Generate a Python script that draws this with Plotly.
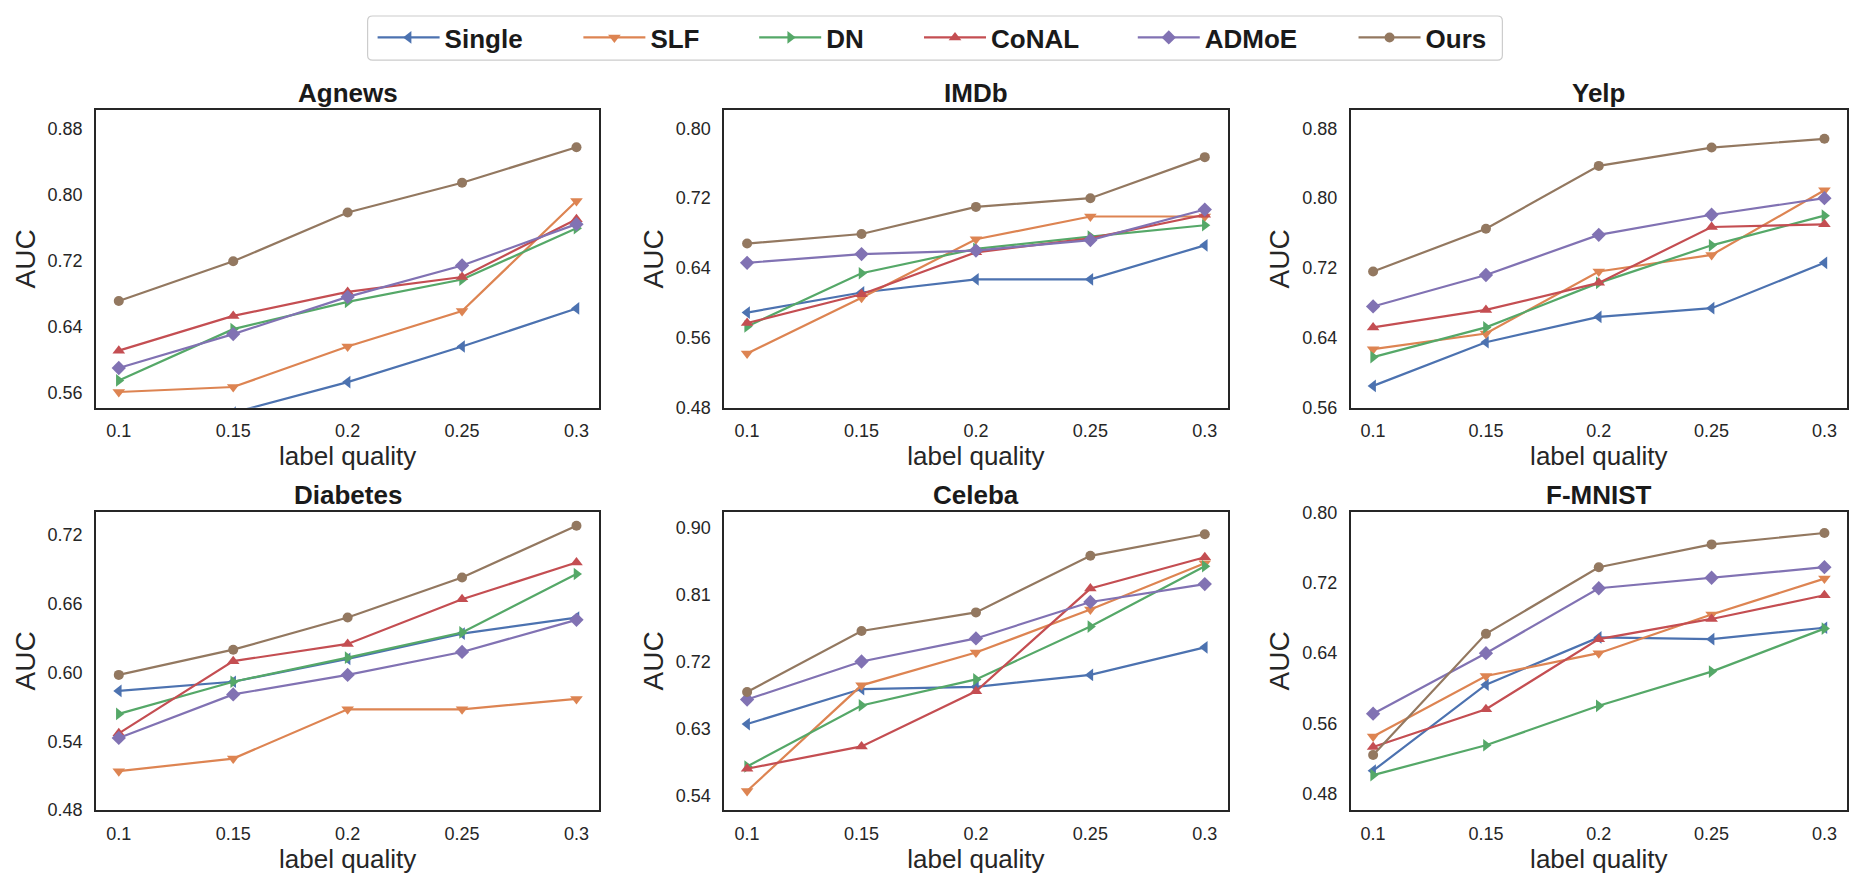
import plotly.graph_objects as go

# ---------------- data ----------------
x_vals = [0.1, 0.15, 0.2, 0.25, 0.3]
x_ticktext = ["0.1", "0.15", "0.2", "0.25", "0.3"]
methods = ["Single", "SLF", "DN", "CoNAL", "ADMoE", "Ours"]
datasets = ["Agnews", "IMDb", "Yelp", "Diabetes", "Celeba", "F-MNIST"]

agnews = {
    "Single": [0.500, 0.536, 0.573, 0.616, 0.662],
    "SLF":    [0.561, 0.567, 0.616, 0.659, 0.792],
    "DN":     [0.575, 0.637, 0.670, 0.697, 0.759],
    "CoNAL":  [0.611, 0.653, 0.682, 0.700, 0.770],
    "ADMoE":  [0.590, 0.631, 0.676, 0.714, 0.764],
    "Ours":   [0.671, 0.719, 0.778, 0.814, 0.857],
}
imdb = {
    "Single": [0.589, 0.612, 0.627, 0.627, 0.666],
    "SLF":    [0.542, 0.606, 0.673, 0.699, 0.699],
    "DN":     [0.573, 0.634, 0.662, 0.676, 0.689],
    "CoNAL":  [0.577, 0.610, 0.658, 0.674, 0.701],
    "ADMoE":  [0.646, 0.656, 0.660, 0.672, 0.707],
    "Ours":   [0.668, 0.679, 0.710, 0.720, 0.767],
}
yelp = {
    "Single": [0.585, 0.635, 0.664, 0.674, 0.726],
    "SLF":    [0.627, 0.645, 0.716, 0.735, 0.809],
    "DN":     [0.618, 0.652, 0.703, 0.746, 0.780],
    "CoNAL":  [0.652, 0.672, 0.703, 0.767, 0.770],
    "ADMoE":  [0.676, 0.712, 0.758, 0.781, 0.800],
    "Ours":   [0.716, 0.765, 0.837, 0.858, 0.868],
}
diabetes = {
    "Single": [0.584, 0.592, 0.612, 0.634, 0.648],
    "SLF":    [0.514, 0.525, 0.568, 0.568, 0.577],
    "DN":     [0.564, 0.592, 0.613, 0.635, 0.686],
    "CoNAL":  [0.547, 0.610, 0.625, 0.664, 0.696],
    "ADMoE":  [0.543, 0.581, 0.598, 0.618, 0.646],
    "Ours":   [0.598, 0.620, 0.648, 0.683, 0.728],
}
celeba = {
    "Single": [0.636, 0.683, 0.686, 0.702, 0.739],
    "SLF":    [0.546, 0.688, 0.732, 0.790, 0.852],
    "DN":     [0.579, 0.661, 0.696, 0.767, 0.848],
    "CoNAL":  [0.576, 0.606, 0.680, 0.818, 0.860],
    "ADMoE":  [0.669, 0.720, 0.751, 0.800, 0.824],
    "Ours":   [0.679, 0.761, 0.786, 0.862, 0.891],
}
fmnist = {
    "Single": [0.506, 0.604, 0.658, 0.656, 0.669],
    "SLF":    [0.545, 0.614, 0.640, 0.684, 0.725],
    "DN":     [0.501, 0.535, 0.580, 0.619, 0.668],
    "CoNAL":  [0.533, 0.576, 0.656, 0.679, 0.706],
    "ADMoE":  [0.571, 0.640, 0.714, 0.726, 0.738],
    "Ours":   [0.524, 0.662, 0.738, 0.764, 0.777],
}

yticks_agnews = [0.56, 0.64, 0.72, 0.80, 0.88]
yticks_imdb = [0.48, 0.56, 0.64, 0.72, 0.80]
yticks_yelp = [0.56, 0.64, 0.72, 0.80, 0.88]
yticks_diabetes = [0.48, 0.54, 0.60, 0.66, 0.72]
yticks_celeba = [0.54, 0.63, 0.72, 0.81, 0.90]
yticks_fmnist = [0.48, 0.56, 0.64, 0.72, 0.80]

yrange_agnews = [0.542, 0.902]
yrange_imdb = [0.48, 0.821]
yrange_yelp = [0.56, 0.901]
yrange_diabetes = [0.48, 0.7405]
yrange_celeba = [0.5203, 0.9215]
yrange_fmnist = [0.461, 0.8015]

# ---------------- style / layout ----------------
# page body has an 8px margin: keep the figure inside the window without scrollbars
OFF = 8
W, H = 1857 - 2 * OFF, 884 - 2 * OFF


def fx(px):
    return min(1.0, max(0.0, (px - OFF) / W))


def fy(py):
    return min(1.0, max(0.0, 1 - (py - OFF) / H))


colors = {"Single": "#4C72B0", "SLF": "#DD8452", "DN": "#55A868",
          "CoNAL": "#C44E52", "ADMoE": "#8172B3", "Ours": "#937860"}
symbols = {"Single": "triangle-left", "SLF": "triangle-down", "DN": "triangle-right",
           "CoNAL": "triangle-up", "ADMoE": "diamond", "Ours": "circle"}
msizes = {"Single": 11, "SLF": 11, "DN": 11, "CoNAL": 11, "ADMoE": 11, "Ours": 10}
FONT = "Liberation Sans, Arial, Helvetica, sans-serif"
TXT = "#262626"

panel_data = [agnews, imdb, yelp, diabetes, celeba, fmnist]
panel_ticks = [yticks_agnews, yticks_imdb, yticks_yelp, yticks_diabetes, yticks_celeba, yticks_fmnist]
panel_ranges = [yrange_agnews, yrange_imdb, yrange_yelp, yrange_diabetes, yrange_celeba, yrange_fmnist]

col_px = [(96, 600), (725, 1229), (1352, 1849)]
row_px = [(104, 408), (514, 819)]

# legend line start pixel positions (window coordinates)
legend_px = {"Single": 378, "SLF": 584, "DN": 760, "CoNAL": 925, "ADMoE": 1139, "Ours": 1360}

fig = go.Figure()
layout = {}
annotations = []

for i, (name, data) in enumerate(zip(datasets, panel_data)):
    r, c = divmod(i, 3)
    n = "" if i == 0 else str(i + 1)
    xd = [fx(col_px[c][0]), fx(col_px[c][1])]
    yd = [fy(row_px[r][1]), fy(row_px[r][0])]
    for k, m in enumerate(methods):
        lg = "legend" if k == 0 else "legend" + str(k + 1)
        fig.add_trace(go.Scatter(
            x=x_vals, y=data[m], name=m, mode="lines+markers",
            line=dict(color=colors[m], width=2.2),
            marker=dict(symbol=symbols[m], size=msizes[m], color=colors[m]),
            xaxis="x" + n, yaxis="y" + n,
            showlegend=(i == 0), legend=lg, cliponaxis=True,
        ))
    layout["xaxis" + n] = dict(
        domain=xd, anchor="y" + n, range=[0.09, 0.31],
        tickmode="array", tickvals=x_vals, ticktext=x_ticktext,
        showline=True, mirror=True, linecolor=TXT, linewidth=1.5,
        showgrid=False, zeroline=False, ticks="", ticklabelstandoff=6,
        tickfont=dict(size=18, color=TXT, family=FONT),
        title=dict(text="label quality", font=dict(size=26, color=TXT, family=FONT), standoff=5),
    )
    layout["yaxis" + n] = dict(
        domain=yd, anchor="x" + n, range=panel_ranges[i],
        tickmode="array", tickvals=panel_ticks[i],
        ticktext=["%.2f" % v for v in panel_ticks[i]],
        showline=True, mirror=True, linecolor=TXT, linewidth=1.5,
        showgrid=False, zeroline=False, ticks="", ticklabelstandoff=8,
        tickfont=dict(size=18, color=TXT, family=FONT),
        title=dict(text="AUC", font=dict(size=28, color=TXT, family=FONT), standoff=4),
    )
    annotations.append(dict(
        text="<b>%s</b>" % name, x=(xd[0] + xd[1]) / 2, y=yd[1],
        xref="paper", yref="paper", xanchor="center", yanchor="bottom",
        showarrow=False, yshift=0, font=dict(size=26, color="#1a1a1a", family=FONT),
    ))

for k, m in enumerate(methods):
    key = "legend" if k == 0 else "legend" + str(k + 1)
    layout[key] = dict(
        x=fx(legend_px[m] - 5), xanchor="left", y=fy(30), yanchor="middle",
        orientation="h", bgcolor="rgba(0,0,0,0)", borderwidth=0, itemwidth=62,
        font=dict(size=26, color="#1a1a1a", family=FONT, weight="bold"),
    )

# legend frame with rounded corners
x0, x1, y0, y1 = fx(368), fx(1504), fy(53), fy(8)
rx, ry = 5 / W, 5 / H
path = (f"M{x0+rx},{y1} L{x1-rx},{y1} Q{x1},{y1} {x1},{y1-ry} L{x1},{y0+ry} "
        f"Q{x1},{y0} {x1-rx},{y0} L{x0+rx},{y0} Q{x0},{y0} {x0},{y0+ry} "
        f"L{x0},{y1-ry} Q{x0},{y1} {x0+rx},{y1} Z")

fig.update_layout(
    **layout,
    annotations=annotations,
    shapes=[dict(type="path", path=path, xref="paper", yref="paper",
                 line=dict(color="#cccccc", width=1.2), fillcolor="white", layer="below")],
    width=W, height=H, margin=dict(l=0, r=0, t=0, b=0),
    paper_bgcolor="white", plot_bgcolor="white",
    font=dict(family=FONT, color=TXT),
)

fig.write_html("out.html")
